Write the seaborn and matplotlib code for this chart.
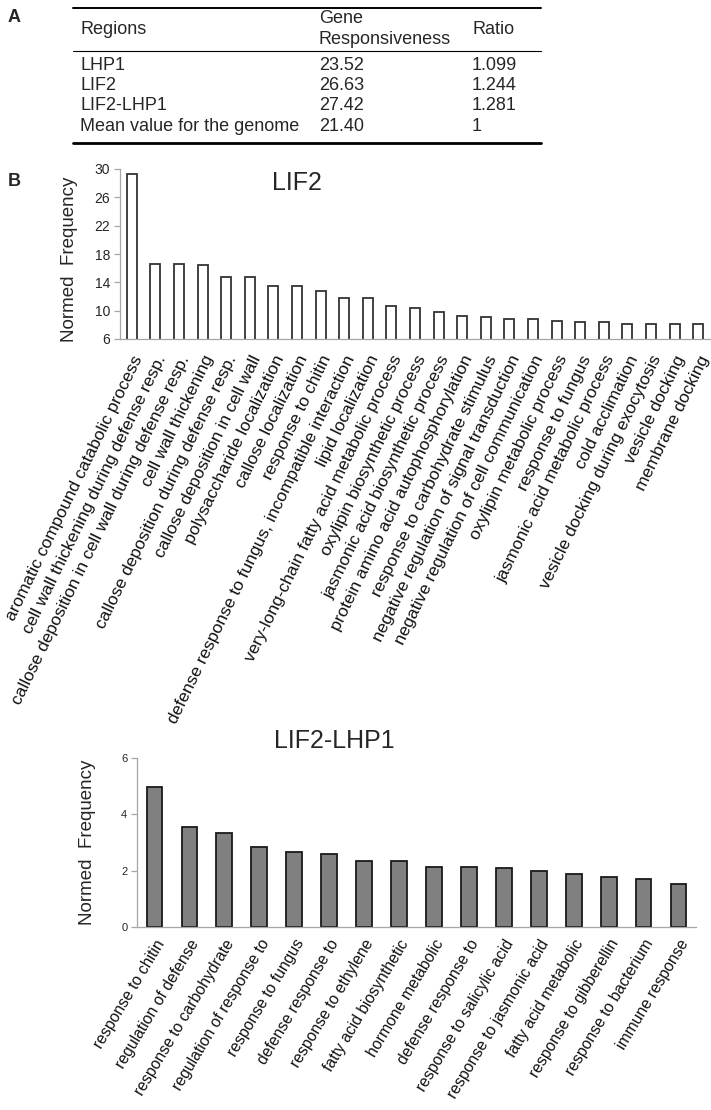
import numpy as np
import matplotlib
matplotlib.use("Agg")
import matplotlib.pyplot as plt
import seaborn as sns
from matplotlib.lines import Line2D

# table (panel A)
table_header = ["Regions", "Gene\nResponsiveness", "Ratio"]
regions = ["LHP1", "LIF2", "LIF2-LHP1", "Mean value for the genome"]
responsiveness = ["23.52", "26.63", "27.42", "21.40"]
ratios = ["1.099", "1.244", "1.281", "1"]

# panel B, LIF2
lif2_terms = [
    "aromatic compound catabolic process",
    "cell wall thickening during defense resp.",
    "callose deposition in cell wall during defense resp.",
    "cell wall thickening",
    "callose deposition during defense resp.",
    "callose deposition in cell wall",
    "polysaccharide localization",
    "callose localization",
    "response to chitin",
    "defense response to fungus, incompatible interaction",
    "lipid localization",
    "very-long-chain fatty acid metabolic process",
    "oxylipin biosynthetic process",
    "jasmonic acid biosynthetic process",
    "protein amino acid autophosphorylation",
    "response to carbohydrate stimulus",
    "negative regulation of signal transduction",
    "negative regulation of cell communication",
    "oxylipin metabolic process",
    "response to fungus",
    "jasmonic acid metabolic process",
    "cold acclimation",
    "vesicle docking during exocytosis",
    "vesicle docking",
    "membrane docking",
]
lif2_freq = [29.3, 16.6, 16.6, 16.5, 14.8, 14.8, 13.5, 13.5, 12.8, 11.8,
             11.8, 10.7, 10.35, 9.87, 9.25, 9.07, 8.83, 8.83, 8.54, 8.36,
             8.36, 8.16, 8.16, 8.16, 8.16]

# panel B, LIF2-LHP1
both_terms = [
    "response to chitin",
    "regulation of defense",
    "response to carbohydrate",
    "regulation of response to",
    "response to fungus",
    "defense response to",
    "response to ethylene",
    "fatty acid biosynthetic",
    "hormone metabolic",
    "defense response to",
    "response to salicylic acid",
    "response to jasmonic acid",
    "fatty acid metabolic",
    "response to gibberellin",
    "response to bacterium",
    "immune response",
]
both_freq = [4.96, 3.54, 3.35, 2.84, 2.68, 2.60, 2.35, 2.35, 2.14, 2.14,
             2.10, 1.98, 1.89, 1.77, 1.72, 1.52]

sns.set_style("white")
plt.rcParams["font.family"] = ["Liberation Sans", "DejaVu Sans"]

W, H = 711, 1110
fig = plt.figure(figsize=(W / 100, H / 100), dpi=100)


def fx(px):
    return px / W


def fy(py):
    return 1 - py / H


# ---- panel A: table ----
fig.text(fx(8), fy(17), "A", fontsize=13, fontweight="bold", va="center")
fig.text(fx(8), fy(182), "B", fontsize=13, fontweight="bold", va="center")

for y, lw in [(8, 1.4), (51, 0.8), (143, 2.0)]:
    fig.add_artist(Line2D([fx(73), fx(541)], [fy(y), fy(y)], color="black", lw=lw))

col_x = [80, 319, 472]
for x, txt in zip(col_x, table_header):
    fig.text(fx(x), fy(29), txt, fontsize=13, va="center", linespacing=1.25)
row_y = [66, 86, 106, 127]
for y, a, b, c in zip(row_y, regions, responsiveness, ratios):
    fig.text(fx(col_x[0]), fy(y), a, fontsize=13, va="center")
    fig.text(fx(col_x[1]), fy(y), b, fontsize=13, va="center")
    fig.text(fx(col_x[2]), fy(y), c, fontsize=13, va="center")


def style_axis(ax, n, labels, rot, lab_size, tick_size, pad):
    sns.despine(ax=ax)
    for s in ["left", "bottom"]:
        ax.spines[s].set_color("#a6a6a6")
        ax.spines[s].set_linewidth(0.9)
    ax.set_xlim(-0.5, n - 0.5)
    ax.set_xticks(np.arange(n))
    ax.set_xticklabels(labels, rotation=rot, ha="right", rotation_mode="anchor",
                       fontsize=lab_size, color="#111111")
    ax.set_xticks(np.arange(-0.5, n), minor=True)
    ax.tick_params(axis="x", which="major", length=0, pad=pad)
    ax.tick_params(axis="x", which="minor", length=5, color="#a6a6a6", width=0.9)
    ax.tick_params(axis="y", length=4, color="#a6a6a6", width=0.9,
                   labelsize=tick_size, pad=3, left=True)
    ax.set_xlabel("")


# ---- LIF2 ----
ax1 = fig.add_axes([fx(120), fy(339), fx(710) - fx(120), (339 - 169) / H])
sns.barplot(x=lif2_terms, y=lif2_freq, color="white", edgecolor="#333333",
            linewidth=1.3, width=0.42, saturation=1, ax=ax1)
ax1.set_ylim(6, 30)
ax1.set_yticks([6, 10, 14, 18, 22, 26, 30])
style_axis(ax1, len(lif2_terms), lif2_terms, 64, 12.5, 10, 10)
ax1.set_ylabel("Normed  Frequency", fontsize=13.5, va="center")
ax1.yaxis.set_label_coords(-0.086, 0.47)
ax1.text(0.30, 0.92, "LIF2", transform=ax1.transAxes, fontsize=18,
         ha="center", va="center")

# ---- LIF2-LHP1 ----
ax2 = fig.add_axes([fx(137), fy(927), fx(696) - fx(137), (927 - 758) / H])
sns.barplot(x=np.arange(len(both_terms)), y=both_freq, color="#808080",
            edgecolor="#1a1a1a", linewidth=1.3, width=0.45, saturation=1, ax=ax2)
ax2.set_ylim(0, 6)
ax2.set_yticks([0, 2, 4, 6])
style_axis(ax2, len(both_terms), both_terms, 59, 11.3, 8, 7)
ax2.set_ylabel("Normed  Frequency", fontsize=13.5, va="center")
ax2.yaxis.set_label_coords(-0.088, 0.5)
fig.text(fx(334), fy(741), "LIF2-LHP1", fontsize=18, ha="center", va="center")

fig.savefig("out.png", dpi=100)
